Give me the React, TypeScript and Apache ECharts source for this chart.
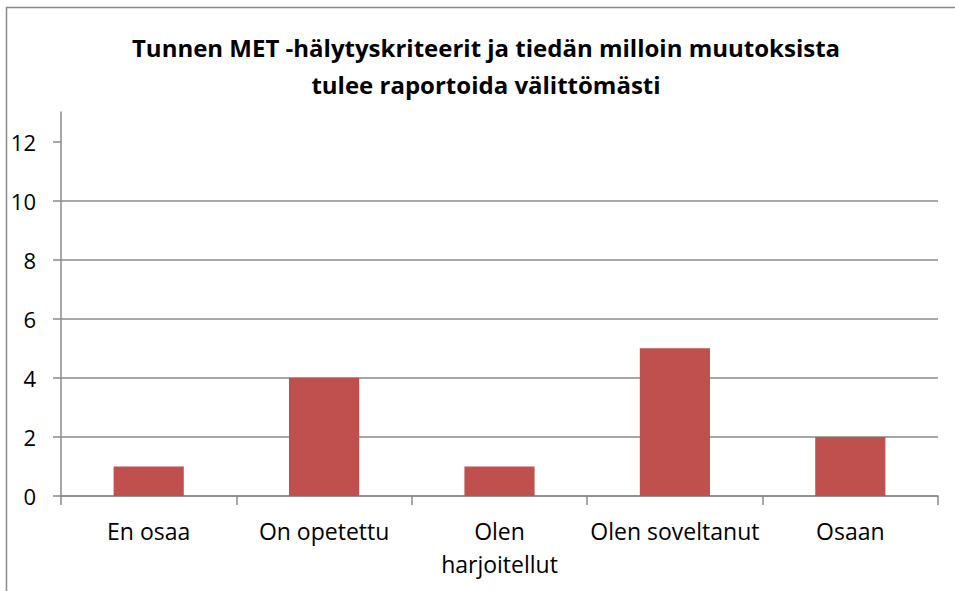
import React, { useEffect, useRef } from "react";
import * as echarts from "echarts";

const titleLines = [
  "Tunnen MET -hälytyskriteerit ja tiedän milloin muutoksista",
  "tulee raportoida välittömästi",
];
const categories = ["En osaa", "On opetettu", "Olen\nharjoitellut", "Olen soveltanut", "Osaan"];
const counts = [1, 4, 1, 5, 2];
const yTicks = [0, 2, 4, 6, 8, 10, 12];

const FONT = "'Open Sans', 'Noto Sans', sans-serif";
const GRAY = "#8a8a8a";

export default function App() {
  const ref = useRef<HTMLDivElement>(null);
  useEffect(() => {
    document.body.style.margin = "0";
    const chart = echarts.init(ref.current!, null, { renderer: "svg" });
    chart.setOption({
      animation: false,
      backgroundColor: "#ffffff",
      graphic: [
        {
          type: "rect",
          shape: { x: 6.5, y: 7.5, width: 2000, height: 2000 },
          style: { fill: "none", stroke: GRAY, lineWidth: 1.5 },
          silent: true,
        },
        {
          type: "text",
          x: 486,
          y: 29,
          style: {
            text: titleLines.join("\n"),
            textAlign: "center",
            textVerticalAlign: "top",
            fontFamily: FONT,
            fontWeight: "bold",
            fontSize: 24,
            lineHeight: 37,
            fill: "#000000",
          },
        },
      ],
      grid: { left: 61, right: 17, top: 112, bottom: 95, containLabel: false },
      xAxis: {
        type: "category",
        data: categories,
        boundaryGap: true,
        axisLine: { show: true, lineStyle: { color: GRAY, width: 1.5 } },
        axisTick: { show: true, length: 9, alignWithLabel: false, lineStyle: { color: GRAY, width: 1.5 } },
        axisLabel: {
          interval: 0,
          margin: 18,
          fontFamily: FONT,
          fontSize: 23,
          lineHeight: 33,
          color: "#000000",
        },
        splitLine: { show: false },
      },
      yAxis: {
        type: "value",
        min: 0,
        max: 13,
        interval: 2,
        axisLine: { show: true, lineStyle: { color: GRAY, width: 1.5 } },
        axisTick: { show: true, length: 8, customValues: yTicks, lineStyle: { color: GRAY, width: 1.5 } },
        axisLabel: {
          customValues: yTicks,
          margin: 25,
          fontFamily: FONT,
          fontSize: 22,
          color: "#000000",
        },
        splitLine: { show: true, showMaxLine: false, lineStyle: { color: GRAY, width: 1.5 } },
      },
      series: [
        {
          type: "bar",
          data: counts,
          barCategoryGap: "60%",
          itemStyle: { color: "#C0504D" },
        },
      ],
    });
    return () => chart.dispose();
  }, []);
  return (
    <div
      ref={ref}
      style={{ position: "absolute", left: 0, top: 0, width: 955, height: 591 }}
    />
  );
}
